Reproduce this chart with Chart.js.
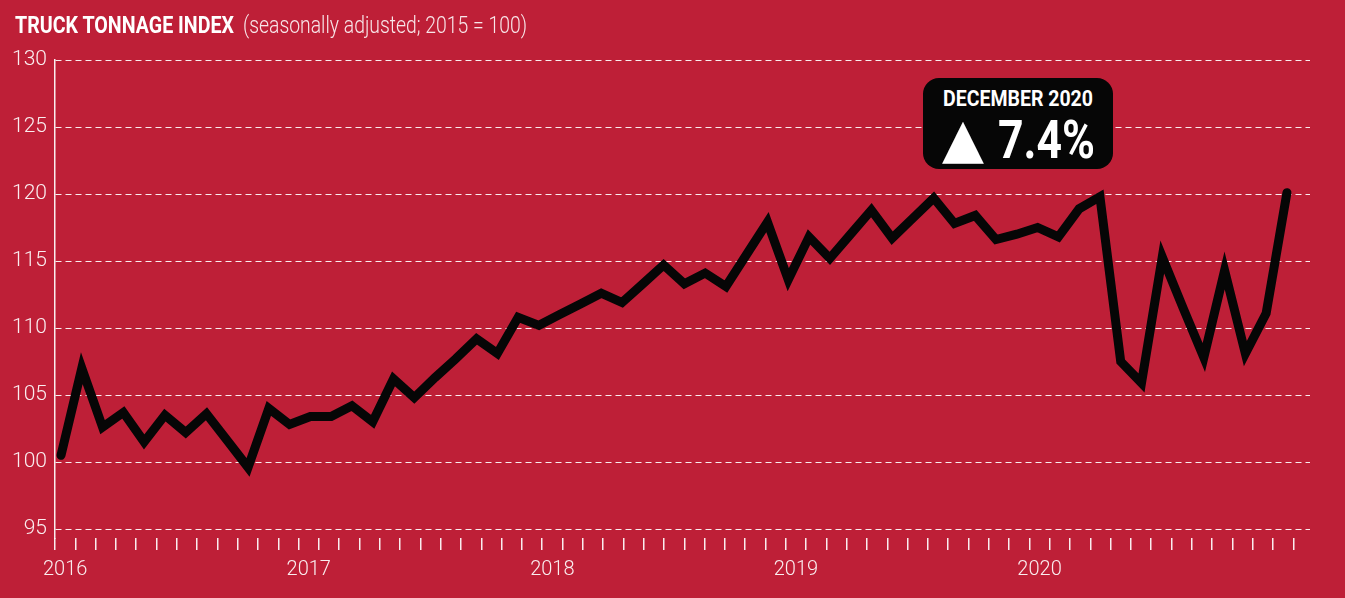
<!DOCTYPE html>
<html>
<head>
<meta charset="utf-8">
<script src="https://cdn.jsdelivr.net/npm/chart.js@4.4.1/dist/chart.umd.min.js"></script>
<style>
  html, body { margin: 0; padding: 0; background: #be1f37; }
  #wrap { position: relative; width: 1345px; height: 598px; overflow: hidden; background: #be1f37; }
  #chart { position: absolute; left: 0; top: 0; }
  .fit { position: absolute; white-space: nowrap; transform-origin: 0 0; font-family: Roboto, sans-serif; color: #fff; }
  .t-bold { left: 15px; top: 12px; font-size: 23px; line-height: 28px; font-weight: 700; }
  .t-light { left: 243px; top: 12px; font-size: 23px; line-height: 28px; font-weight: 300; color: #f8e6e9; }
  .callout {
    position: absolute; left: 923px; top: 78px; width: 190px; height: 91px;
    background: #060606; border-radius: 16px;
  }
  .c-when { left: 20px; top: 7px; font-size: 22.5px; line-height: 26px; font-weight: 700; }
  .c-arrow { left: 19px; top: 30px; font-family: "DejaVu Sans", sans-serif; font-size: 55px; line-height: 60px; }
  .c-pct { left: 75px; top: 32px; font-size: 53px; line-height: 60px; font-weight: 700; }
</style>
</head>
<body>
<div id="wrap">
  <canvas id="chart" width="1345" height="598"></canvas>
  <div class="fit t-bold" data-w="219">TRUCK TONNAGE INDEX</div>
  <div class="fit t-light" data-w="284">(seasonally adjusted; 2015 = 100)</div>
  <div class="callout">
    <div class="fit c-when" data-w="150">DECEMBER 2020</div>
    <div class="fit c-arrow" data-w="42">▲</div>
    <div class="fit c-pct" data-w="97">7.4%</div>
  </div>
</div>
<script>
// monthly index, Jan 2016 .. Dec 2020 (2015 = 100)
const years = ["2016", "2017", "2018", "2019", "2020"];
const tonnage = [
  100.5, 107.0, 102.6, 103.7, 101.5, 103.5, 102.2, 103.6, 101.6, 99.6, 104.0, 102.8,
  103.4, 103.4, 104.2, 103.0, 106.2, 104.8, 106.3, 107.7, 109.2, 108.1, 110.8, 110.2,
  111.0, 111.8, 112.6, 111.9, 113.3, 114.7, 113.3, 114.1, 113.1, 115.5, 117.9, 113.6,
  116.8, 115.2, 117.0, 118.8, 116.7, 118.2, 119.7, 117.8, 118.4, 116.6, 117.0, 117.5,
  116.8, 118.9, 119.8, 107.5, 105.9, 115.3, 111.5, 107.8, 114.3, 108.1, 111.1, 120.1
];
const yTicks = [95, 100, 105, 110, 115, 120, 125, 130];

const months = [];
years.forEach(y => {
  for (let m = 1; m <= 12; m++) months.push(y + "-" + String(m).padStart(2, "0"));
});

// squeeze the html texts to the condensed widths of the original
document.querySelectorAll(".fit").forEach(el => {
  const w = el.getBoundingClientRect().width;
  el.style.transform = "scaleX(" + (Number(el.dataset.w) / w) + ")";
});

const xMin = -0.29, xMax = 60.11;
const tickStep = 0.977;   // spacing of the small month ticks under the plot
const tickCount = 62;

const white = "rgba(255,255,255,0.92)";

new Chart(document.getElementById("chart"), {
  type: "line",
  data: {
    datasets: [{
      data: tonnage.map((v, i) => ({ x: i, y: v, month: months[i] })),
      borderColor: "#060606",
      borderWidth: 9,
      borderJoinStyle: "miter",
      borderCapStyle: "round",
      pointRadius: 0,
      tension: 0,
      clip: false
    }]
  },
  options: {
    responsive: false,
    animation: false,
    events: [],
    layout: { padding: { left: 0, right: 35, top: 60, bottom: 0 } },
    plugins: { legend: { display: false }, tooltip: { enabled: false } },
    scales: {
      x: {
        type: "linear",
        min: xMin,
        max: xMax,
        afterBuildTicks: scale => {
          const t = [];
          for (let j = 0; j < tickCount; j++) t.push({ value: xMin + j * tickStep });
          years.forEach((y, i) => t.push({ value: xMin + (i * 12 + 0.5) * tickStep, year: y }));
          scale.ticks = t;
        },
        afterFit: scale => { scale.height = 60; },
        grid: {
          drawOnChartArea: false,
          drawTicks: true,
          tickLength: 12,
          lineWidth: 1.5,
          color: ctx => (ctx.tick && ctx.tick.year) ? "rgba(0,0,0,0)" : white
        },
        border: { display: false },
        ticks: {
          autoSkip: false,
          maxRotation: 0,
          padding: 8,
          color: white,
          font: { family: "Roboto", weight: "300", size: 20 },
          callback: (v, i, ticks) => ticks[i].year || ""
        }
      },
      y: {
        min: 94.33,
        max: 130,
        afterBuildTicks: scale => { scale.ticks = yTicks.map(v => ({ value: v })); },
        afterFit: scale => { scale.width = 55; },
        grid: { color: white, lineWidth: 1, drawTicks: false },
        border: { display: true, color: white, width: 1.5, dash: [6, 4] },
        ticks: { padding: 8, color: white, font: { family: "Roboto", weight: "300", size: 21 } }
      }
    }
  }
});
</script>
</body>
</html>
